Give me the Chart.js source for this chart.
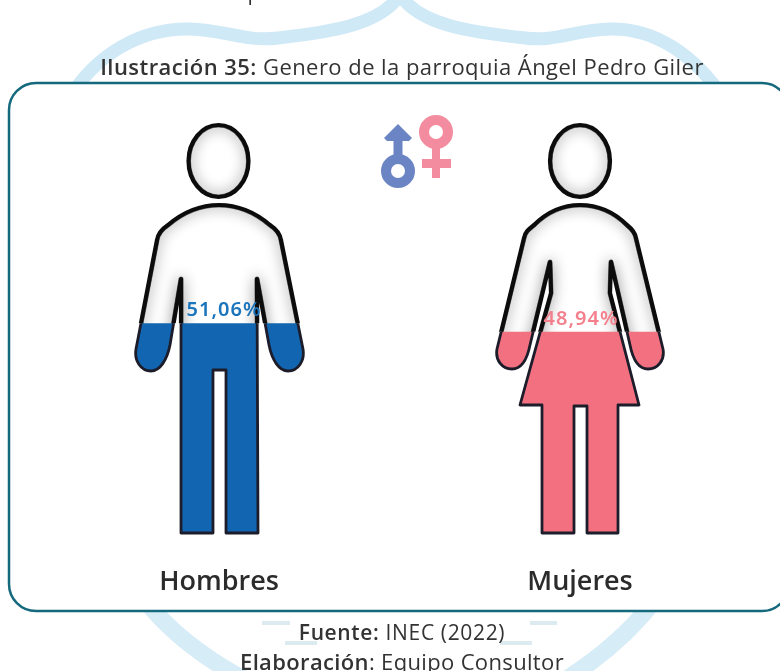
<!DOCTYPE html>
<html lang="es">
<head>
<meta charset="utf-8">
<title>Genero de la parroquia Ángel Pedro Giler</title>
<script src="https://cdn.jsdelivr.net/npm/chart.js@4"></script>
<style>
  html, body { margin: 0; padding: 0; background: #fff; overflow: hidden; }
  #wrap { position: relative; width: 780px; height: 671px; overflow: hidden; }
  canvas { position: absolute; left: 0; top: 0; }
  .txt {
    position: absolute; left: 0; width: 804px; text-align: center; white-space: nowrap;
    font-family: "Open Sans", sans-serif; color: #333; font-size: 22px; line-height: 24px;
  }
  .txt b { font-weight: 600; }
</style>
</head>
<body>
<div id="wrap">
  <canvas id="grafico" width="780" height="671"></canvas>
  <div class="txt" style="top:-20px;left:15px;width:auto;font-size:21px">del total de habitantes que no se han hallado</div>
  <div class="txt" style="top:54px;letter-spacing:.45px"><b>Ilustración 35:</b> Genero de la parroquia Ángel Pedro Giler</div>
  <div class="txt" style="top:620px;font-size:21px;letter-spacing:.65px"><b>Fuente:</b> INEC (2022)</div>
  <div class="txt" style="top:649px;letter-spacing:.35px"><b>Elaboración</b>: Equipo Consultor</div>
</div>
<script>
const categorias = ['Hombres', 'Mujeres'];
const porcentajes = [51.06, 48.94];

const colorBarras = ['#1265b0', '#f27080'];
const colorEtiquetas = ['#1b75bc', '#f4808e'];

// Siluetas en pixeles de la pagina, solo decoracion
function siluetaHombre() {
  const p = new Path2D();
  p.moveTo(181, 533);
  p.lineTo(181, 279);
  p.lineTo(170, 345);
  p.bezierCurveTo(167, 360, 160, 371, 151, 371);
  p.bezierCurveTo(141, 371, 134, 361, 136, 349);
  p.lineTo(157, 240);
  p.bezierCurveTo(158, 233, 162, 229, 168, 225);
  p.bezierCurveTo(182, 213, 200, 205, 219, 205);
  p.bezierCurveTo(238, 205, 256, 213, 270, 225);
  p.bezierCurveTo(276, 229, 280, 233, 281, 240);
  p.lineTo(303, 349);
  p.bezierCurveTo(305, 361, 298, 371, 288, 371);
  p.bezierCurveTo(279, 371, 272, 360, 269, 345);
  p.lineTo(257, 279);
  p.lineTo(258, 533);
  p.lineTo(226, 533);
  p.lineTo(226, 370);
  p.lineTo(213, 370);
  p.lineTo(213, 533);
  p.closePath();
  return p;
}

function siluetaMujer() {
  const p = new Path2D();
  p.moveTo(542, 533);
  p.lineTo(542, 405);
  p.lineTo(520, 405);
  p.lineTo(551, 293);
  p.lineTo(550, 262);
  p.lineTo(530, 345);
  p.bezierCurveTo(527, 360, 521, 369, 512, 369);
  p.bezierCurveTo(502, 369, 495, 360, 497, 349);
  p.lineTo(524, 238);
  p.bezierCurveTo(525, 232, 529, 229, 534, 225);
  p.bezierCurveTo(547, 212, 563, 205, 580, 205);
  p.bezierCurveTo(597, 205, 614, 212, 627, 225);
  p.bezierCurveTo(632, 229, 635, 232, 636, 238);
  p.lineTo(663, 349);
  p.bezierCurveTo(665, 360, 658, 369, 648, 369);
  p.bezierCurveTo(639, 369, 633, 360, 630, 345);
  p.lineTo(611, 262);
  p.lineTo(610, 293);
  p.lineTo(639, 405);
  p.lineTo(618, 405);
  p.lineTo(618, 533);
  p.lineTo(587, 533);
  p.lineTo(587, 406);
  p.lineTo(574, 406);
  p.lineTo(574, 533);
  p.closePath();
  return p;
}

const siluetas = [siluetaHombre(), siluetaMujer()];
const cabezas = [[218.5, 161], [580, 161]];

function dibujarFondo(ctx) {
  ctx.save();
  // Marca de agua
  ctx.strokeStyle = '#cfe9f6';
  ctx.lineWidth = 13;
  ctx.beginPath();
  ctx.moveTo(68, 100);
  ctx.bezierCurveTo(95, 55, 140, 28, 190, 29);
  ctx.bezierCurveTo(225, 30, 245, 42, 278, 38);
  ctx.bezierCurveTo(330, 32, 380, 25, 400, -5);
  ctx.bezierCurveTo(420, 25, 470, 32, 525, 38);
  ctx.bezierCurveTo(555, 42, 575, 30, 610, 29);
  ctx.bezierCurveTo(655, 28, 695, 55, 725, 100);
  ctx.stroke();
  ctx.strokeStyle = '#d6ecf6';
  ctx.lineWidth = 17;
  ctx.beginPath();
  ctx.moveTo(145, 600);
  ctx.quadraticCurveTo(180, 645, 245, 680);
  ctx.moveTo(655, 600);
  ctx.quadraticCurveTo(620, 645, 565, 680);
  ctx.stroke();
  ctx.strokeStyle = '#dcebf0';
  ctx.lineWidth = 4;
  [[262, 290, 623], [530, 557, 623], [285, 317, 643], [500, 532, 643]].forEach(s => {
    ctx.beginPath();
    ctx.moveTo(s[0], s[2]);
    ctx.lineTo(s[1], s[2]);
    ctx.stroke();
  });
  // Marco
  ctx.fillStyle = '#fff';
  ctx.strokeStyle = '#14697d';
  ctx.lineWidth = 2.5;
  ctx.beginPath();
  ctx.roundRect(9, 83, 780, 528, 27);
  ctx.fill();
  ctx.stroke();
  ctx.restore();
}

function dibujarSimbolos(ctx) {
  ctx.save();
  // Masculino
  ctx.fillStyle = '#6b85c4';
  ctx.strokeStyle = '#6b85c4';
  ctx.lineWidth = 10;
  ctx.beginPath();
  ctx.arc(398, 171, 12, 0, Math.PI * 2);
  ctx.stroke();
  ctx.fillRect(393.5, 134, 9, 25);
  ctx.beginPath();
  ctx.moveTo(398, 124);
  ctx.lineTo(412, 138);
  ctx.lineTo(409, 141);
  ctx.lineTo(387, 141);
  ctx.lineTo(384, 138);
  ctx.closePath();
  ctx.fill();
  // Femenino
  ctx.fillStyle = '#f48ca0';
  ctx.strokeStyle = '#f48ca0';
  ctx.beginPath();
  ctx.arc(436, 132, 12, 0, Math.PI * 2);
  ctx.stroke();
  ctx.fillRect(432, 146, 8, 32);
  ctx.fillRect(422, 159, 29, 9);
  ctx.restore();
}

const figuras = {
  id: 'figuras',
  // El marco va antes que los ejes para no tapar las etiquetas
  beforeDraw(chart) {
    dibujarFondo(chart.ctx);
    dibujarSimbolos(chart.ctx);
  },
  beforeDatasetsDraw(chart) {
    const ctx = chart.ctx;
    // Sombra interior de las siluetas y las cabezas
    siluetas.forEach((s, i) => {
      const cabeza = new Path2D();
      cabeza.ellipse(cabezas[i][0], cabezas[i][1], 30, 36, 0, 0, Math.PI * 2);
      [s, cabeza].forEach(forma => {
        ctx.save();
        ctx.clip(forma);
        ctx.shadowColor = 'rgba(0,0,0,.9)';
        ctx.shadowBlur = 14;
        ctx.strokeStyle = 'rgba(0,0,0,.5)';
        ctx.lineWidth = 5;
        ctx.lineJoin = 'round';
        ctx.stroke(forma);
        ctx.restore();
      });
    });
    // Las barras solo se ven dentro de la silueta
    const clipPath = new Path2D();
    siluetas.forEach(s => clipPath.addPath(s));
    ctx.save();
    ctx.clip(clipPath);
  },
  afterDatasetsDraw(chart) {
    const ctx = chart.ctx;
    ctx.restore();
    const barras = chart.getDatasetMeta(0).data;
    siluetas.forEach((s, i) => {
      const tope = barras[i].y;
      ctx.save();
      ctx.strokeStyle = '#0c0c0c';
      ctx.lineJoin = 'round';
      // Por encima del relleno la linea es mas gruesa
      ctx.save();
      ctx.beginPath();
      ctx.rect(0, 0, 780, tope);
      ctx.clip();
      ctx.lineWidth = 4.2;
      ctx.stroke(s);
      ctx.beginPath();
      ctx.ellipse(cabezas[i][0], cabezas[i][1], 30, 36, 0, 0, Math.PI * 2);
      ctx.stroke();
      ctx.restore();
      ctx.beginPath();
      ctx.rect(0, tope, 780, 671 - tope);
      ctx.clip();
      ctx.lineWidth = 2.8;
      ctx.strokeStyle = '#1c1c2a';
      ctx.stroke(s);
      ctx.restore();
    });
    // Etiquetas de porcentaje
    ctx.save();
    ctx.font = '600 20px "Noto Sans"';
    ctx.letterSpacing = '1px';
    ctx.textAlign = 'center';
    ctx.textBaseline = 'alphabetic';
    barras.forEach((b, i) => {
      ctx.fillStyle = colorEtiquetas[i];
      const texto = porcentajes[i].toFixed(2).replace('.', ',') + '%';
      ctx.fillText(texto, b.x + (i === 0 ? 5 : 1), b.y - 7);
    });
    ctx.restore();
  }
};

new Chart(document.getElementById('grafico'), {
  type: 'bar',
  data: {
    labels: categorias,
    datasets: [{
      data: porcentajes,
      backgroundColor: colorBarras,
      barPercentage: 1,
      categoryPercentage: 0.56
    }]
  },
  options: {
    responsive: false,
    animation: false,
    layout: { padding: { left: 38.5, right: 19.5, top: 122, bottom: 68 } },
    plugins: { legend: { display: false }, tooltip: { enabled: false } },
    scales: {
      y: { display: false, min: 0, max: 100 },
      x: {
        grid: { display: false },
        border: { display: false },
        afterFit(scale) { scale.height = 70; },
        ticks: {
          color: '#2b2b2b',
          padding: 25,
          font: { family: 'Open Sans', size: 27, weight: '600' }
        }
      }
    }
  },
  plugins: [figuras]
});
</script>
</body>
</html>
